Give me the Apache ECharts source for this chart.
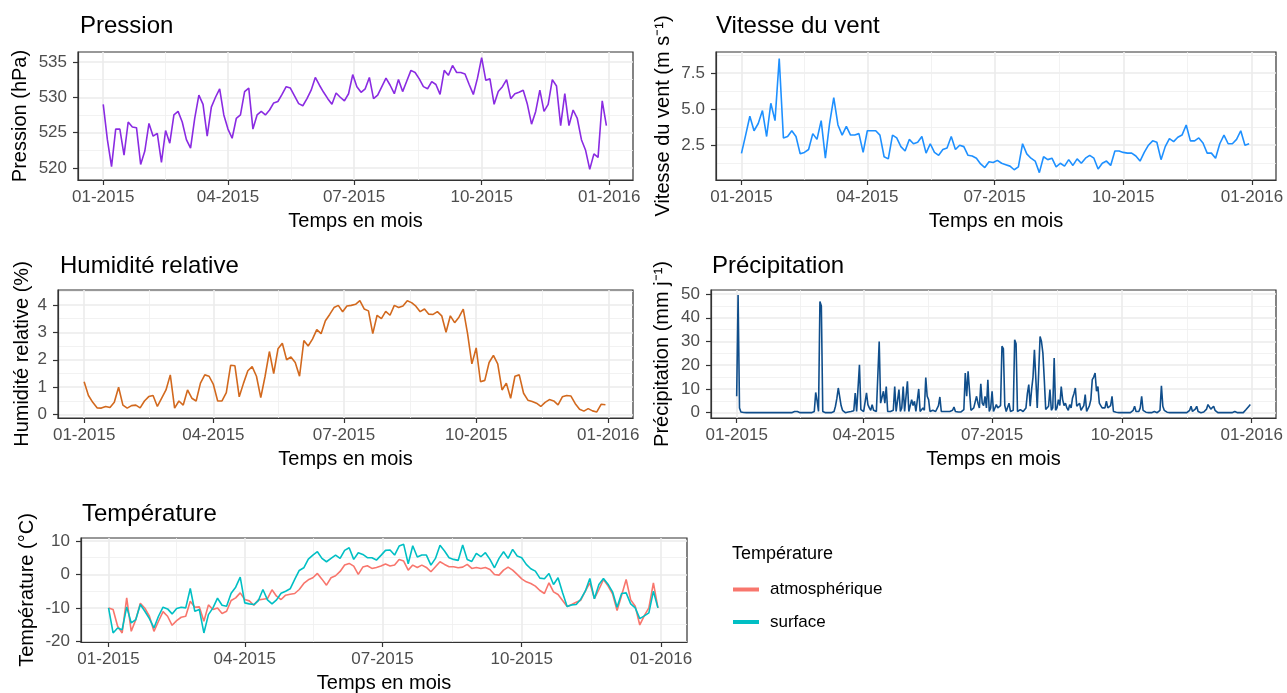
<!DOCTYPE html>
<html>
<head>
<meta charset="utf-8">
<title>Météo 2015</title>
<script src="https://cdn.jsdelivr.net/npm/echarts@6/dist/echarts.min.js"></script>
<style>
  html, body { margin: 0; padding: 0; background: #fff; }
  #chart { width: 1287px; height: 693px; }
</style>
</head>
<body>
<div id="chart"></div>
<script>
// jours depuis le 01-01-2015
const xTickDays = [0, 90, 181, 273, 365]
const xTickLabels = ['01-2015', '04-2015', '07-2015', '10-2015', '01-2016']
const xMinorDays = [45, 135.5, 227, 319]

// une valeur tous les 3 jours
const STEP = 3
const pression = [
  529, 524, 520.2, 525.5, 525.5, 521.8, 526.5, 525.8, 525.7, 520.5,
  522.4, 526.3, 524.5, 524.9, 520.8, 525.3, 523.5, 527.5, 528, 526.5,
  524, 522.8, 527, 530.3, 529, 524.5, 528.6, 530, 531.2, 527.5,
  525.5, 524.2, 527, 527.5, 530.8, 531.3, 525.5, 527.5, 528, 527.5,
  528.2, 529.2, 529.4, 530.4, 531.5, 531.3, 530.2, 529.1, 528.8, 529.8,
  531, 532.8, 531.7, 530.7, 529.8, 529, 530.6, 530, 529.5, 530.5,
  533.2, 531.5, 530.7, 531.2, 532.8, 529.8, 530.3, 531.5, 532.7, 531.7,
  530.5, 532.5, 530.8, 532.3, 533.8, 533.5, 532.6, 531.5, 531.2, 532.2,
  531.8, 530.4, 533.8, 533.1, 534.5, 533.5, 533.5, 533.3, 531.8, 530.4,
  532.7, 535.6, 532.4, 532.6, 529, 530.8, 531.5, 532.5, 529.8, 530.5,
  530.7, 531, 529, 526.2, 528, 531, 528, 529, 532.5, 531.6,
  526, 530.5, 526, 528.2, 527, 524, 522.5, 519.8, 522, 521.5,
  529.5, 526
]
const vent = [
  1.93, 3.2, 4.5, 3.5, 4.0, 4.9, 3.1, 5.4, 4.2, 8.5,
  3.0, 3.1, 3.5, 3.1, 1.9, 2.0, 2.2, 3.3, 2.9, 4.2,
  1.6, 4.0, 5.8, 3.9, 3.2, 3.8, 3.2, 3.2, 3.3, 2.0,
  3.5, 3.5, 3.5, 3.2, 1.7, 1.55, 3.2, 3.0, 2.4, 2.1,
  2.9, 2.6, 2.7, 3.1, 1.95, 2.6, 2.0, 1.8, 2.2, 2.3,
  3.1, 2.2, 2.5, 2.4, 1.8, 1.75, 1.6, 1.2, 0.95, 1.35,
  1.3, 1.45, 1.25, 1.15, 1.05, 0.8, 1.0, 2.6, 1.9, 1.6,
  1.4, 0.6, 1.7, 1.5, 1.6, 1.0, 1.25, 1.05, 1.5, 1.1,
  1.55, 1.25, 1.6, 1.8, 1.6, 0.85, 1.25, 1.4, 1.1, 2.1,
  2.1, 2.0, 1.95, 1.95, 1.75, 1.4, 2.0, 2.5, 2.8, 2.7,
  1.5, 2.4, 2.95, 2.75, 3.05, 3.2, 3.9, 2.8, 2.8, 3.0,
  2.65, 1.95, 1.95, 1.6, 2.6, 3.2, 2.6, 2.6, 2.9, 3.5,
  2.5, 2.6
]
const humidite = [
  1.2, 0.7, 0.45, 0.25, 0.24, 0.3, 0.26, 0.45, 1.0, 0.35,
  0.24, 0.33, 0.35, 0.25, 0.5, 0.66, 0.7, 0.3, 0.6, 0.9,
  1.45, 0.24, 0.5, 0.35, 0.9, 0.6, 0.5, 1.15, 1.45, 1.4,
  1.1, 0.5, 0.5, 0.8, 1.8, 1.78, 0.65, 1.15, 1.6, 1.75,
  1.4, 0.62, 1.4, 2.3, 1.5, 2.4, 2.6, 2.0, 2.1, 1.9,
  1.4, 2.7, 2.5, 2.75, 3.1, 2.95, 3.42, 3.65, 3.9, 3.98,
  3.75, 3.96, 3.98, 4.02, 4.15, 3.85, 3.78, 2.95, 3.62, 3.5,
  3.76, 3.62, 3.98, 3.9, 3.96, 4.15, 4.08, 3.95, 3.75, 3.85,
  3.66, 3.65, 3.75, 3.6, 3.0, 3.6, 3.35, 3.55, 3.84, 2.95,
  1.85, 2.43, 1.2, 1.25, 1.9, 2.16, 1.85, 0.9, 1.15, 0.6,
  1.4, 1.45, 0.78, 0.53, 0.48, 0.42, 0.3, 0.45, 0.55, 0.5,
  0.36, 0.65, 0.7, 0.68, 0.4, 0.2, 0.13, 0.22, 0.14, 0.1,
  0.38, 0.36
]
const tempAtmo = [
  -10, -10.5, -15.5, -17.5, -7, -17, -13.5, -8.6, -10.1, -12.5,
  -17, -14, -11.1, -12.5, -15.2, -13.8, -12.8, -12.5, -8, -9.8,
  -9.7, -14, -9.1, -10.5, -10, -11.7, -11, -7.8, -7, -5.5,
  -7.5, -7.9, -9.2, -7.6, -7.4, -7.2, -4.6, -6.5, -7.5, -6.2,
  -5.9, -5.7, -4.5, -2.7, -1.6, -1, 0.3, -1.4, -3.2, -1.0,
  -0.4, 0.9, 2.8, 3.3, 2.5, 0.0, 2.2, 2.6, 1.8, 2.1,
  2.5, 3.1, 2.5, 2.8, 4.5, 4.0, 1.3, 2.8, 2.1, 2.8,
  2.1, 0.8, 2.3, 3.8, 3.0, 2.3, 2.3, 2.0, 2.2, 3.0,
  1.8, 2.1, 1.8, 2.1, 1.5, 0, -0.2, 1.3, 2.2, 1.3,
  0.0, -1.3, -2.2, -2.7, -3.5, -4.8, -5.7, -2.5, -5.2, -6,
  -7.8, -9.6, -9, -8.3, -7.7, -5, -2.5, -7.2, -4.5, -1.5,
  -3.4, -5.8, -10.8, -6.2, -1.5, -7.6, -9.5, -15.1, -12.3, -10,
  -2.5, -10
]
const tempSurface = [
  -10, -17.5, -16, -16.5, -9.7, -14.5, -13.5, -9, -11, -13.2,
  -16, -12.5, -9.8, -10.3, -11.8, -10.2, -9.8, -10, -4.2, -11,
  -10.5, -17.5, -12, -10, -7.1, -9.2, -9.5, -5.6, -3.8, -0.8,
  -8.5, -8.8, -9, -7.8, -4.5, -7.6, -8.8, -7.6, -5.6, -5,
  -4.3, -1.5, 1.2, 2, 4.6, 5.8, 6.8, 4.8, 3.8, 4.8,
  5.8, 4.8, 7.2, 8, 4.5, 6.5, 6, 5, 5, 4.3,
  5.7, 7.2, 7.3, 5.8, 8.5, 9.0, 3.2, 8.6, 5.2, 5.8,
  5.8, 2.8, 4.8, 8.7, 7, 5, 4.5, 4.2, 8.8, 4.5,
  3.9, 6.3, 5.3, 6.5, 4.5, 2, 4.8, 6.8, 4.8, 7.5,
  5.5, 5, 3, 1.7, 1.0, -1.1, -1.3, 0.3, -3, -1,
  -5.5, -9.6, -9.1, -9, -7.4, -5, -1.2, -7.3, -3, -1.2,
  -2.9, -5.2, -9.8, -5.7, -5.5, -8.8, -10, -13.2, -12.4, -11.5,
  -5, -10
]
// précipitation journalière
const precip = [
  6.9, 49.6, 2, 0.3, 0.2, 0.1, 0, 0, 0, 0,
  0, 0, 0, 0, 0, 0, 0, 0, 0, 0,
  0, 0, 0, 0, 0, 0, 0, 0, 0, 0,
  0, 0, 0, 0, 0, 0, 0, 0, 0, 0,
  0, 0.5, 1, 0.5, 0, 0, 0, 0, 0, 0,
  0, 0, 0, 0, 0, 0.5, 8.5, 5, 0.5, 46.8,
  45, 0.5, 0, 0, 0, 0, 0.5, 0, 0, 0.5,
  2.7, 6, 10.4, 10.4, 3, 1, 0.5, 0, 0.5, 0.3,
  0, 0.5, 1, 0.8, 8.3, 0.5, 0.5, 20.2, 1.3, 0.5,
  0.5, 0.5, 8.3, 3.4, 2, 1, 3.4, 1, 0.5, 0.5,
  1, 30, 4, 4, 9, 4, 11, 0.5, 0.5, 0.5,
  0.5, 1, 11, 0.5, 1, 9.7, 0.5, 2, 11, 0.5,
  1, 13.2, 0.5, 1, 5.5, 3, 4.8, 0.5, 1, 10,
  0.5, 1, 2, 1, 14.8, 6.9, 5.5, 0.5, 0.5, 1,
  1.3, 0.5, 0.5, 3, 6.6, 0.5, 0.5, 0.5, 1.3, 0.5,
  0.5, 0.5, 0.5, 1, 2.4, 0.5, 0.3, 0.3, 0.5, 0.3,
  0.5, 1.3, 16.7, 6.9, 17.4, 17.4, 1, 1, 2, 2,
  6.9, 4, 2, 12.2, 4, 3, 6.9, 2, 13.9, 0.5,
  2, 9, 0.5, 1, 3.4, 2, 2.7, 3, 28, 27,
  3, 0.5, 1, 4, 0.5, 0.5, 1, 30.7, 29, 0.5,
  0.5, 1.3, 0.5, 0.5, 0.5, 2, 8, 11.8, 2.7, 9.7,
  15, 26.5, 27.2, 2, 16.7, 32.1, 30, 25.1, 13.9, 1.3,
  1, 2.7, 9.7, 1, 2, 23, 1, 2, 5.5, 3,
  11, 5.5, 3, 4, 2, 1, 3.4, 2, 6.2, 8,
  10.4, 2.7, 2, 4, 1, 2, 3, 7.6, 0.5, 1,
  3, 5.5, 13.9, 15, 16.7, 9, 11, 4, 3, 2,
  1.5, 2, 4.8, 2, 2, 3, 6.9, 0.5, 0.3, 0.2,
  0, 0, 0, 0, 0, 0, 0, 0, 0, 0,
  0, 1, 2.7, 0.5, 1, 0.5, 2, 6.9, 1, 0.3,
  0.2, 0, 0, 0, 0, 0.3, 0.5, 0, 0, 0.5,
  1, 11.3, 2.7, 1, 0.5, 0.2, 0, 0, 0, 0,
  0, 0, 0, 0, 0, 0, 0, 0, 0, 0,
  0, 1, 2.7, 0.5, 1, 1.5, 2.7, 0.5, 0, 0,
  0, 0.3, 0.5, 1.5, 3.4, 2.7, 1.5, 1, 2.7, 1,
  0.3, 0, 0, 0, 0, 0, 0, 0, 0, 0,
  0, 0, 0.3, 0.5, 0, 0, 0, 0, 0, 0,
  0.3, 1.3, 0.5, 2.7, 3.4
]

const yPressTicks = [520, 525, 530, 535]
const yPressMinor = [522.5, 527.5, 532.5]
const yVentTicks = [2.5, 5, 7.5]
const yVentMinor = [1.25, 3.75, 6.25, 8.75]
const yHumTicks = [0, 1, 2, 3, 4]
const yHumMinor = [0.5, 1.5, 2.5, 3.5, 4.5]
const yPrecipTicks = [0, 10, 20, 30, 40, 50]
const yPrecipMinor = [5, 15, 25, 35, 45]
const yTempTicks = [-20, -10, 0, 10]
const yTempMinor = [-15, -5, 5]

const FONT = "'Liberation Sans', Arial, sans-serif"
const X_MIN = -18.2
const X_MAX = 382.2

const chart = echarts.init(document.getElementById('chart'))

const panels = [
  { grid: { left: 78, top: 52, width: 555, height: 128 }, title: 'Pression', tl: 80, tt: 14,
    yName: 'Pression (hPa)', nameGap: 48, min: 518.3, max: 536.4, ticks: yPressTicks, minor: yPressMinor },
  { grid: { left: 716, top: 52, width: 560, height: 128 }, title: 'Vitesse du vent', tl: 716, tt: 14,
    yName: 'Vitesse du vent (m s\u207B\u00B9)', nameGap: 43, min: 0.09, max: 8.95, ticks: yVentTicks, minor: yVentMinor,
    fmt: v => v.toFixed(1) },
  { grid: { left: 58, top: 290, width: 575, height: 128 }, title: 'Humidité relative', tl: 60, tt: 254,
    yName: 'Humidité relative (%)', nameGap: 26, min: -0.12, max: 4.54, ticks: yHumTicks, minor: yHumMinor },
  { grid: { left: 711, top: 290, width: 565, height: 128 }, title: 'Précipitation', tl: 712, tt: 254,
    yName: 'Précipitation (mm j\u207B\u00B9)', nameGap: 39, min: -2.25, max: 51.7, ticks: yPrecipTicks, minor: yPrecipMinor },
  { grid: { left: 81, top: 538, width: 606, height: 104 }, title: 'Température', tl: 82, tt: 502,
    yName: 'Température (°C)', nameGap: 44, min: -20.2, max: 10.9, ticks: yTempTicks, minor: yTempMinor }
]

const grids = [], xAxes = [], yAxes = [], titles = []
const lineCol = { color: '#333333', width: 1.2 }

panels.forEach((p, g) => {
  grids.push(Object.assign({ show: true, borderColor: '#333333', borderWidth: 1.2, backgroundColor: '#fff',
    containLabel: false, outerBoundsMode: 'none' }, p.grid))
  titles.push({ text: p.title, left: p.tl, top: p.tt, padding: 0,
    textStyle: { fontSize: 24, fontWeight: 'normal', color: '#000', fontFamily: FONT } })

  xAxes.push({
    type: 'value', gridIndex: g, min: X_MIN, max: X_MAX, position: 'bottom',
    name: 'Temps en mois', nameLocation: 'middle', nameGap: 31, nameMoveOverlap: false,
    nameTextStyle: { fontSize: 20, color: '#000', fontFamily: FONT },
    axisLine: { show: true, onZero: false, lineStyle: lineCol },
    axisTick: { show: true, length: 5, customValues: xTickDays, lineStyle: lineCol },
    axisLabel: { customValues: xTickDays, margin: 9, fontSize: 17, color: '#4D4D4D', fontFamily: FONT,
      formatter: v => xTickLabels[xTickDays.indexOf(v)] },
    splitLine: { show: true, lineStyle: { color: '#EBEBEB', width: 1.6 } }
  })
  xAxes.push({
    type: 'value', gridIndex: g, min: X_MIN, max: X_MAX, position: 'bottom',
    axisLine: { show: false }, axisLabel: { show: false },
    axisTick: { show: false, customValues: xMinorDays },
    splitLine: { show: true, lineStyle: { color: '#EFEFEF', width: 0.8 } }
  })

  yAxes.push({
    type: 'value', gridIndex: g, min: p.min, max: p.max, position: 'left',
    name: p.yName, nameLocation: 'middle', nameGap: p.nameGap, nameMoveOverlap: false,
    nameTextStyle: { fontSize: 20, color: '#000', fontFamily: FONT },
    axisLine: { show: true, onZero: false, lineStyle: lineCol },
    axisTick: { show: true, length: 5, customValues: p.ticks, lineStyle: lineCol },
    axisLabel: { customValues: p.ticks, margin: 11, fontSize: 17, color: '#4D4D4D', fontFamily: FONT,
      formatter: p.fmt || (v => String(v)) },
    splitLine: { show: true, lineStyle: { color: '#EBEBEB', width: 1.6 } }
  })
  yAxes.push({
    type: 'value', gridIndex: g, min: p.min, max: p.max, position: 'left',
    axisLine: { show: false }, axisLabel: { show: false },
    axisTick: { show: false, customValues: p.minor },
    splitLine: { show: true, lineStyle: { color: '#EFEFEF', width: 0.8 } }
  })
})

function toPoints(values, step) {
  return values.map((v, i) => [i * step, v])
}

function line(name, g, values, step, color) {
  return {
    name: name, type: 'line', xAxisIndex: 2 * g, yAxisIndex: 2 * g,
    data: toPoints(values, step), showSymbol: false, symbol: 'none',
    lineStyle: { color: color, width: 1.6 }, itemStyle: { color: color },
    silent: true
  }
}

chart.setOption({
  animation: false,
  backgroundColor: '#fff',
  title: titles,
  grid: grids,
  xAxis: xAxes,
  yAxis: yAxes,
  legend: {
    data: ['atmosphérique', 'surface'], orient: 'vertical', left: 733, top: 581, padding: 0,
    icon: 'rect', itemWidth: 26, itemHeight: 4, itemGap: 15.5,
    textStyle: { fontSize: 17, color: '#000', fontFamily: FONT, padding: [0, 0, 0, 6] },
    selectedMode: false
  },
  graphic: [{
    type: 'text', left: 732, top: 545,
    style: { text: 'Température', fontSize: 18, fill: '#000', fontFamily: FONT }
  }],
  series: [
    line('pression', 0, pression, STEP, '#8A2BE2'),
    line('vent', 1, vent, STEP, '#1E90FF'),
    line('humidite', 2, humidite, STEP, '#D2691E'),
    line('precipitation', 3, precip, 1, '#104E8B'),
    line('atmosphérique', 4, tempAtmo, STEP, '#F8766D'),
    line('surface', 4, tempSurface, STEP, '#00BFC4')
  ]
})
</script>
</body>
</html>
